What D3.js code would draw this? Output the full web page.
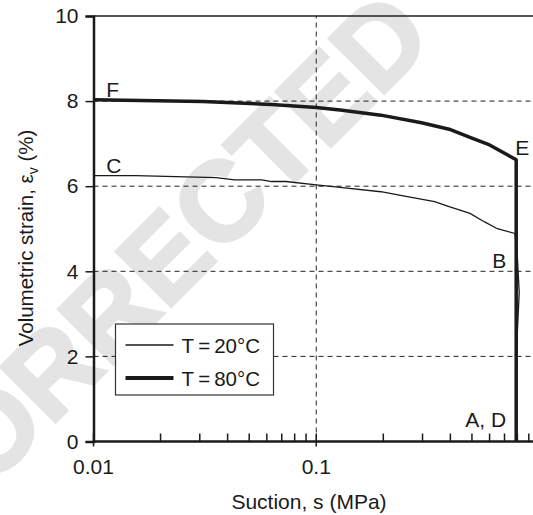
<!DOCTYPE html>
<html>
<head>
<meta charset="utf-8">
<script src="https://cdn.jsdelivr.net/npm/d3@7"></script>
<style>
  body { margin: 0; background: #fff; }
  svg { display: block; font-family: "Liberation Sans", Arial, sans-serif; }
</style>
</head>
<body>
<div id="chart"></div>
<script>
// values
const suction20 = [0.01, 0.0155, 0.0355, 0.043, 0.057, 0.063, 0.073, 0.1, 0.128, 0.195, 0.26, 0.34, 0.395, 0.49, 0.57, 0.65, 0.78, 0.80, 0.815, 0.80, 0.79, 0.79];
const strain20  = [6.25, 6.25, 6.20, 6.15, 6.15, 6.11, 6.11, 6.03, 5.97, 5.87, 5.75, 5.64, 5.52, 5.36, 5.16, 5.00, 4.89, 4.3, 3.5, 2.6, 1.5, 0];

const suction80 = [0.01, 0.031, 0.063, 0.1, 0.128, 0.195, 0.297, 0.395, 0.49, 0.60, 0.79, 0.79];
const strain80  = [8.03, 7.99, 7.92, 7.85, 7.79, 7.67, 7.49, 7.34, 7.15, 6.97, 6.62, 0];

const yTicksMajor = [0, 2, 4, 6, 8, 10];
const yTicksMinor = d3.range(0, 10.01, 0.5);
const xTicksMajor = [0.01, 0.1];
const xTicksMinor = [0.02, 0.03, 0.04, 0.05, 0.06, 0.07, 0.08, 0.09, 0.2, 0.3, 0.4, 0.5, 0.6, 0.7, 0.8, 0.9];
const gridY = [2, 4, 6, 8];
const gridX = [0.1];

const pointLabels = [
  { text: "F", s: 0.0105, v: 8.0 },
  { text: "C", s: 0.0105, v: 6.25 },
  { text: "E", s: 0.79, v: 6.62 },
  { text: "B", s: 0.79, v: 4.0 },
  { text: "A, D", s: 0.79, v: 0 }
];

const width = 533, height = 515;
const x = d3.scaleLog().domain([0.01, 1]).range([93.5, 539]);
const y = d3.scaleLinear().domain([0, 10]).range([441.5, 16]);

const svg = d3.select("#chart").append("svg")
  .attr("width", width)
  .attr("height", height);

// watermark
svg.append("text")
  .attr("transform", "translate(97,323) rotate(-45)")
  .attr("text-anchor", "middle")
  .attr("dy", "0.36em")
  .attr("font-size", 113)
  .attr("font-weight", "bold")
  .attr("fill", "#e4e4e4")
  .attr("stroke", "#e4e4e4")
  .attr("stroke-width", 3)
  .text("UNCORRECTED");

// dashed grid
svg.selectAll(".gy").data(gridY).enter().append("line")
  .attr("x1", x(0.01)).attr("x2", width)
  .attr("y1", d => y(d)).attr("y2", d => y(d))
  .attr("stroke", "#222").attr("stroke-width", 1).attr("stroke-dasharray", "5,4");

svg.selectAll(".gx").data(gridX).enter().append("line")
  .attr("x1", d => x(d)).attr("x2", d => x(d))
  .attr("y1", y(0)).attr("y2", y(10))
  .attr("stroke", "#222").attr("stroke-width", 1).attr("stroke-dasharray", "5,4");

// top frame
svg.append("line")
  .attr("x1", x(0.01)).attr("x2", width)
  .attr("y1", y(10)).attr("y2", y(10))
  .attr("stroke", "#222").attr("stroke-width", 1.5);

// curves
const line = d3.line().x(d => x(d[0])).y(d => y(d[1]));
svg.append("path")
  .attr("d", line(d3.zip(suction20, strain20)))
  .attr("fill", "none").attr("stroke", "#1a1a1a").attr("stroke-width", 1.3);
svg.append("path")
  .attr("d", line(d3.zip(suction80, strain80)))
  .attr("fill", "none").attr("stroke", "#1a1a1a").attr("stroke-width", 3.5)
  .attr("stroke-linejoin", "round");

// y axis
const yAxis = svg.append("g").attr("transform", `translate(${x(0.01)},0)`);
yAxis.call(d3.axisLeft(y).tickValues(yTicksMinor).tickSize(8).tickFormat(""));
yAxis.call(d3.axisLeft(y).tickValues(yTicksMajor).tickSize(8).tickPadding(7).tickFormat(d3.format("d")));
yAxis.selectAll(".domain").attr("stroke-width", 2.5).attr("stroke", "#1a1a1a");
yAxis.selectAll(".tick line").attr("stroke-width", 1.5).attr("stroke", "#1a1a1a");
yAxis.selectAll(".tick text").attr("font-size", 21).attr("fill", "#1a1a1a")
  .attr("font-family", "Liberation Sans, Arial, sans-serif");

// x axis: minor ticks inward, major ticks crossing
const xAxis = svg.append("g").attr("transform", `translate(0,${y(0)})`);
xAxis.append("line")
  .attr("x1", x(0.01)).attr("x2", width)
  .attr("stroke", "#1a1a1a").attr("stroke-width", 2.5);
xAxis.selectAll(".minor").data(xTicksMinor).enter().append("line")
  .attr("x1", d => x(d)).attr("x2", d => x(d))
  .attr("y1", 0).attr("y2", -8)
  .attr("stroke", "#1a1a1a").attr("stroke-width", 1.5);
xAxis.selectAll(".major").data(xTicksMajor).enter().append("line")
  .attr("x1", d => x(d)).attr("x2", d => x(d))
  .attr("y1", 5).attr("y2", -8)
  .attr("stroke", "#1a1a1a").attr("stroke-width", 1.5);
xAxis.selectAll(".lbl").data(xTicksMajor).enter().append("text")
  .attr("x", d => x(d)).attr("y", 32)
  .attr("text-anchor", "middle").attr("font-size", 21).attr("fill", "#1a1a1a")
  .text(d => d);

// axis titles
svg.append("text")
  .attr("x", 309).attr("y", 509)
  .attr("text-anchor", "middle").attr("font-size", 21).attr("fill", "#1a1a1a")
  .text("Suction, s (MPa)");

const yt = svg.append("text")
  .attr("transform", "translate(33,238) rotate(-90)")
  .attr("text-anchor", "middle").attr("font-size", 20.5).attr("fill", "#1a1a1a");
yt.append("tspan").text("Volumetric strain, ε");
yt.append("tspan").attr("font-size", 14).attr("dy", 5).text("v");
yt.append("tspan").attr("dy", -5).text(" (%)");

// point labels
const lblPos = {
  "F": { dx: 8, dy: -4, anchor: "start" },
  "C": { dx: 8, dy: -3, anchor: "start" },
  "E": { dx: -1, dy: -5, anchor: "start" },
  "B": { dx: -10, dy: -3, anchor: "end" },
  "A, D": { dx: -10, dy: -15, anchor: "end" }
};
svg.selectAll(".pl").data(pointLabels).enter().append("text")
  .attr("x", d => x(d.s) + lblPos[d.text].dx)
  .attr("y", d => y(d.v) + lblPos[d.text].dy)
  .attr("text-anchor", d => lblPos[d.text].anchor)
  .attr("font-size", 21).attr("fill", "#1a1a1a")
  .text(d => d.text);

// legend
const legend = svg.append("g").attr("transform", "translate(115.5,324)");
legend.append("rect")
  .attr("width", 158).attr("height", 71)
  .attr("fill", "#fff").attr("stroke", "#333").attr("stroke-width", 1.2);
const legendItems = [
  { label: "T\u2009=\u200920°C", w: 1.3 },
  { label: "T\u2009=\u200980°C", w: 4 }
];
legendItems.forEach((d, i) => {
  const yy = 21 + i * 33;
  legend.append("line")
    .attr("x1", 10).attr("x2", 58).attr("y1", yy).attr("y2", yy)
    .attr("stroke", "#1a1a1a").attr("stroke-width", d.w);
  legend.append("text")
    .attr("x", 66).attr("y", yy + 8)
    .attr("font-size", 20.5).attr("fill", "#1a1a1a")
    .text(d.label);
});
</script>
</body>
</html>
